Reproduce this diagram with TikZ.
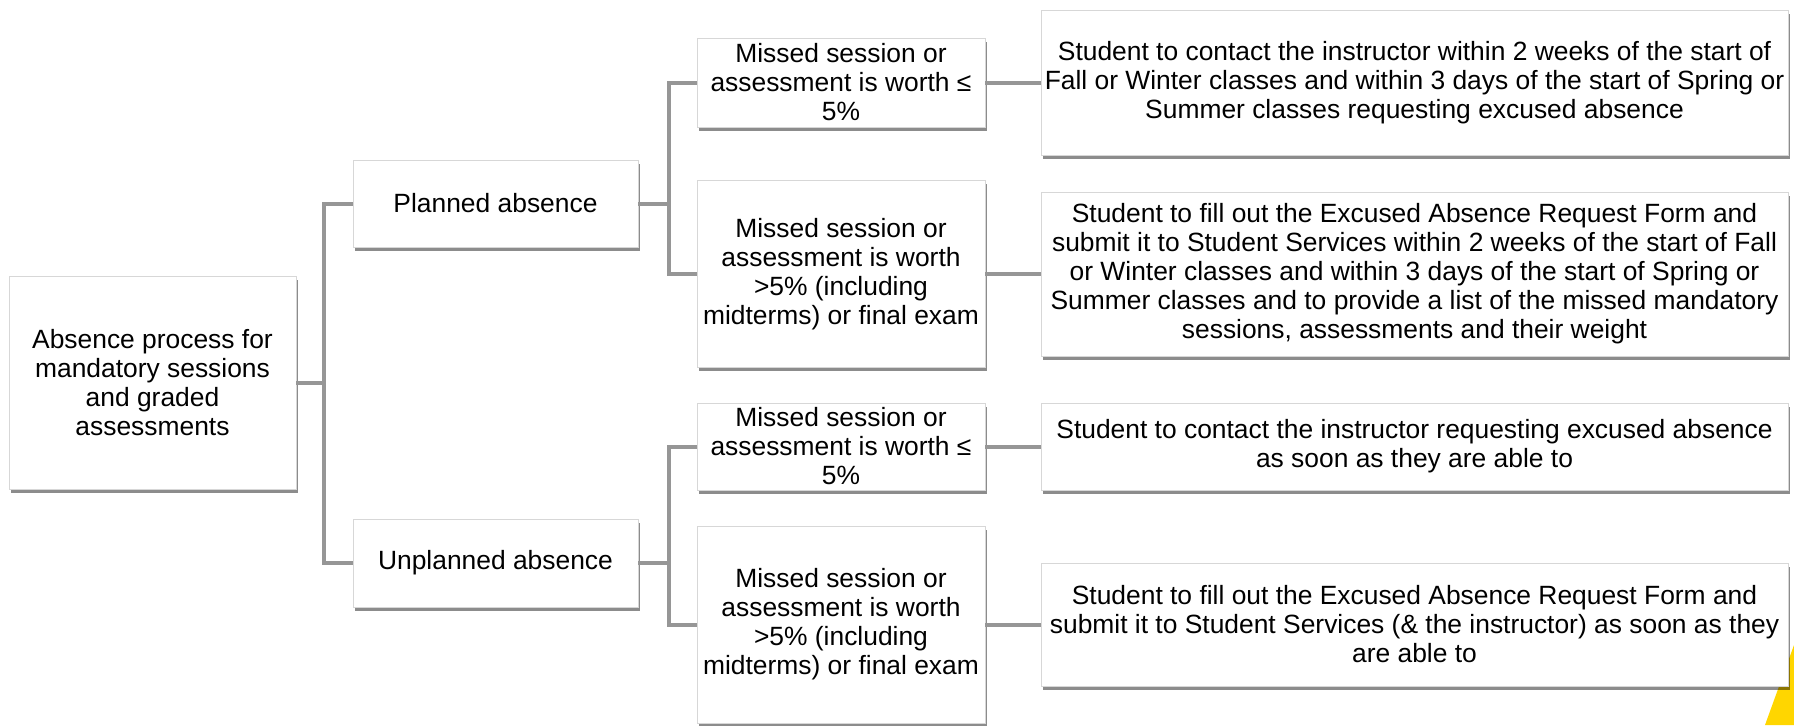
\documentclass[tikz,border=0pt]{standalone}
\usepackage{fontspec}
\setmainfont{Liberation Sans}
\usetikzlibrary{shadows}
\definecolor{linkgray}{RGB}{150,150,150}
\definecolor{boxedge}{RGB}{215,215,215}
\definecolor{logoyellow}{RGB}{255,214,0}
\begin{document}
\begin{tikzpicture}[x=0.5pt, y=-0.5pt,
    box/.style={draw=boxedge, fill=white, align=center, inner sep=0pt,
        font=\fontsize{13.2}{14.5}\selectfont,
        drop shadow={shadow xshift=0.8pt, shadow yshift=-1.8pt, fill=black, opacity=0.45}},
    link/.style={draw=linkgray, line width=2pt}]
    \useasboundingbox (0,0) rectangle (1794,725);

    % corner of the logo
    \fill[logoyellow] (1765,725) -- (1794,645) -- (1794,725) -- cycle;

    % root
	\node[box, minimum width=143.5pt, minimum height=106.5pt] (root) at (152.5, 382.5)
    {Absence process for\\ mandatory sessions\\ and graded\\ assessments};

    % planned / unplanned
	\node[box, minimum width=142.5pt, minimum height=43.5pt] (planned) at (495.5, 203.5)
    {Planned absence};
	\node[box, minimum width=142.5pt, minimum height=44pt] (unplanned) at (495.5, 563)
    {Unplanned absence};

    % missed session, planned
	\node[box, minimum width=144pt, minimum height=44.5pt] (pl_low) at (841, 82.5)
    {Missed session or\\ assessment is worth ≤\\ 5\%};
	\node[box, minimum width=144pt, minimum height=93.5pt] (pl_high) at (841, 274)
    {Missed session or\\ assessment is worth\\ >5\% (including\\ midterms) or final exam};

    % missed session, unplanned
	\node[box, minimum width=144pt, minimum height=43.5pt] (un_low) at (841, 446.5)
    {Missed session or\\ assessment is worth ≤\\ 5\%};
	\node[box, minimum width=144pt, minimum height=98.5pt] (un_high) at (841, 624.5)
    {Missed session or\\ assessment is worth\\ >5\% (including\\ midterms) or final exam};

    % what the student does
	\node[box, minimum width=373.5pt, minimum height=72.5pt] (pl_low_do) at (1414.5, 82.5)
    {Student to contact the instructor within 2 weeks of the start of\\
    Fall or Winter classes and within 3 days of the start of Spring or\\
    Summer classes requesting excused absence};
	\node[box, minimum width=373.5pt, minimum height=82pt] (pl_high_do) at (1414.5, 274)
    {Student to fill out the Excused Absence Request Form and\\
    submit it to Student Services within 2 weeks of the start of Fall\\
    or Winter classes and within 3 days of the start of Spring or\\
    Summer classes and to provide a list of the missed mandatory\\
    sessions, assessments and their weight};
	\node[box, minimum width=373.5pt, minimum height=43.5pt] (un_low_do) at (1414.5, 446.5)
    {Student to contact the instructor requesting excused absence\\
    as soon as they are able to};
	\node[box, minimum width=373.5pt, minimum height=61.5pt] (un_high_do) at (1414.5, 624.5)
    {Student to fill out the Excused Absence Request Form and\\
    submit it to Student Services (\& the instructor) as soon as they\\
    are able to};

    % connectors
    \draw[link] (planned.west) -- ++(-29,0) |- (root.east);
    \draw[link] (unplanned.west) -- ++(-29,0) |- (root.east);
    \draw[link] (pl_low.west) -- ++(-28,0) |- (planned.east);
    \draw[link] (pl_high.west) -- ++(-28,0) |- (planned.east);
    \draw[link] (un_low.west) -- ++(-28,0) |- (unplanned.east);
    \draw[link] (un_high.west) -- ++(-28,0) |- (unplanned.east);
    \draw[link] (pl_low.east) -- (pl_low_do.west);
    \draw[link] (pl_high.east) -- (pl_high_do.west);
    \draw[link] (un_low.east) -- (un_low_do.west);
    \draw[link] (un_high.east) -- (un_high_do.west);

\end{tikzpicture}
\end{document}
